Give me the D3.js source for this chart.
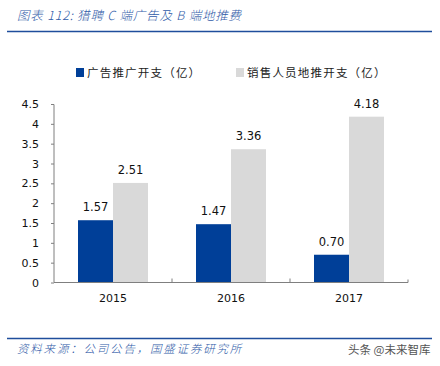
<!DOCTYPE html>
<html><head><meta charset="utf-8">
<script src="https://cdn.jsdelivr.net/npm/d3@7/dist/d3.min.js"></script>
<style>body{margin:0;background:#fff}svg{display:block}</style>
</head><body>
<script>
const categories = ["2015", "2016", "2017"];
const seriesNames = ["广告推广开支（亿）", "销售人员地推开支（亿）"];
const adSpend = [1.57, 1.47, 0.70];
const salesSpend = [2.51, 3.36, 4.18];
const yTicks = [0, 0.5, 1, 1.5, 2, 2.5, 3, 3.5, 4, 4.5];
const colors = ["#003f98", "#d9d9d9"];

const W = 440, H = 366;
const svg = d3.select("body").append("svg").attr("width", W).attr("height", H);
const cjk = "'Noto Sans CJK SC', sans-serif";
const num = "'DejaVu Sans', Verdana, sans-serif";

// Title
svg.append("text").attr("x", 17).attr("y", 20)
  .attr("font-family", cjk).attr("font-size", 12.5).attr("font-style", "italic").attr("font-weight", 300)
  .attr("letter-spacing", 0.8)
  .attr("fill", "#2f5ba8").text("图表 112:  猎聘 C 端广告及 B 端地推费");
svg.append("line").attr("x1", 7).attr("x2", 432).attr("y1", 31.5).attr("y2", 31.5)
  .attr("stroke", "#1f4e9c").attr("stroke-width", 1.5);

// Legend
const legX = [76, 236];
seriesNames.forEach((n, i) => {
  svg.append("rect").attr("x", legX[i]).attr("y", 68).attr("width", 8).attr("height", 9).attr("fill", colors[i]);
  svg.append("text").attr("x", legX[i] + 11).attr("y", 77)
    .attr("font-family", cjk).attr("font-size", 11.5).attr("fill", "#222")
    .attr("letter-spacing", 1.2).text(n);
});

const x = d3.scaleBand().domain(categories).range([54, 408]);
const y = d3.scaleLinear().domain([0, 4.5]).range([282.5, 104]);
const barW = 35;

const yAxis = svg.append("g").attr("transform", "translate(54,0)")
  .call(d3.axisLeft(y).tickValues(yTicks).tickFormat(d => d3.format("")(d)).tickSize(3).tickPadding(12));
yAxis.select(".domain").attr("stroke", "#7f7f7f").attr("d", "M-3,104.5H0V282.5");
yAxis.selectAll(".tick line").attr("stroke", "#7f7f7f");
yAxis.selectAll("text").attr("font-family", num).attr("font-size", 11).attr("fill", "#111");

[adSpend, salesSpend].forEach((vals, s) => {
  svg.append("g").selectAll("rect").data(categories).join("rect")
    .attr("x", (d, i) => x(d) + x.bandwidth() / 2 - barW + s * barW)
    .attr("width", barW)
    .attr("y", (d, i) => y(vals[i]))
    .attr("height", (d, i) => y(0) - y(vals[i]))
    .attr("fill", colors[s]);
  svg.append("g").selectAll("text").data(categories).join("text")
    .attr("x", (d, i) => x(d) + x.bandwidth() / 2 - barW / 2 + s * barW)
    .attr("y", (d, i) => y(vals[i]) - 9)
    .attr("text-anchor", "middle")
    .attr("font-family", num).attr("font-size", 11.5).attr("fill", "#111")
    .text((d, i) => vals[i].toFixed(2));
});

// X axis
const xAxis = svg.append("g").attr("transform", "translate(0,282.5)")
  .call(d3.axisBottom(x).tickSize(0).tickPadding(12));
xAxis.select(".domain").attr("stroke", "#7f7f7f").attr("d", "M54,0H408V-3");
xAxis.selectAll("text").attr("font-family", num).attr("font-size", 11).attr("fill", "#111");
svg.append("g").selectAll("line").data(categories.slice(1)).join("line")
  .attr("x1", d => x(d)).attr("x2", d => x(d)).attr("y1", 282.5).attr("y2", 278.5)
  .attr("stroke", "#7f7f7f");

// Footer
svg.append("line").attr("x1", 7).attr("x2", 432).attr("y1", 338.5).attr("y2", 338.5)
  .attr("stroke", "#1f4e9c").attr("stroke-width", 1.5);
svg.append("text").attr("x", 17).attr("y", 353)
  .attr("font-family", cjk).attr("font-size", 11.5).attr("font-style", "italic").attr("font-weight", 300)
  .attr("letter-spacing", 1.8)
  .attr("fill", "#2f5ba8").text("资料来源：公司公告，国盛证券研究所");
svg.append("text").attr("x", 348).attr("y", 354)
  .attr("font-family", cjk).attr("font-size", 11.5).attr("fill", "#555")
  .text("头条 @未来智库");
</script>
</body></html>
